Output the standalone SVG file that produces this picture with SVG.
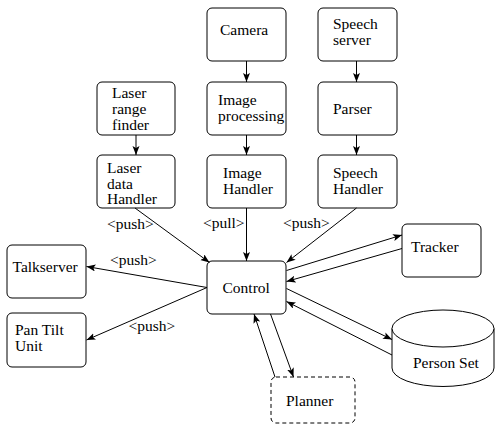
<svg xmlns="http://www.w3.org/2000/svg" width="495" height="425" viewBox="0 0 495 425">
<style>
.box{fill:#fff;stroke:#000;stroke-width:1}
.dash{fill:#fff;stroke:#000;stroke-width:1;stroke-dasharray:4,3}
text{font-family:'Liberation Serif','Times New Roman','DejaVu Serif',serif;font-size:15.5px;fill:#000}
.e{fill:none;stroke:#000;stroke-width:1;marker-end:url(#ah)}
</style>
<defs>
<marker id="ah" markerUnits="userSpaceOnUse" markerWidth="10" markerHeight="8" refX="9" refY="3.5" orient="auto">
<path d="M0,0 L9,3.5 L0,7 L2,3.5 z" fill="#000"/>
</marker>
</defs>
<rect width="495" height="425" fill="#fff"/>
<g font-family="Liberation Serif, serif">
<g id="camera"><rect class="box" x="207" y="8" width="79" height="53" rx="5"/><text x="220" y="35">Camera</text></g>
<g id="speech-server"><rect class="box" x="318" y="8" width="79" height="53" rx="5"/><text x="333" y="29">Speech</text><text x="333" y="45">server</text></g>
<g id="laser-range-finder"><rect class="box" x="97" y="82" width="78" height="53" rx="5"/><text x="112" y="98">Laser</text><text x="112" y="114">range</text><text x="112" y="130">finder</text></g>
<g id="image-processing"><rect class="box" x="207" y="82" width="79" height="53" rx="5"/><text x="218" y="105">Image</text><text x="218" y="121">processing</text></g>
<g id="parser"><rect class="box" x="318" y="82" width="79" height="53" rx="5"/><text x="333" y="114">Parser</text></g>
<g id="laser-data-handler"><rect class="box" x="97" y="155" width="78" height="53" rx="5"/><text x="107" y="173">Laser</text><text x="107" y="188.5">data</text><text x="107" y="204">Handler</text></g>
<g id="image-handler"><rect class="box" x="207" y="155" width="79" height="53" rx="5"/><text x="223" y="178">Image</text><text x="223" y="193.5">Handler</text></g>
<g id="speech-handler"><rect class="box" x="318" y="155" width="79" height="53" rx="5"/><text x="333" y="177.5">Speech</text><text x="333" y="193.5">Handler</text></g>
<g id="talkserver"><rect class="box" x="7" y="245" width="79" height="53" rx="5"/><text x="12.5" y="272">Talkserver</text></g>
<g id="pan-tilt-unit"><rect class="box" x="7" y="313" width="79" height="54" rx="5"/><text x="15" y="335">Pan Tilt</text><text x="15" y="350.5">Unit</text></g>
<g id="control"><rect class="box" x="207" y="261" width="79" height="53" rx="5"/><text x="222.5" y="293">Control</text></g>
<g id="tracker"><rect class="box" x="402" y="224" width="79" height="53" rx="5"/><text x="411" y="252">Tracker</text></g>
<g id="person-set"><path class="box" d="M392,328.5 L392,368 A51,18.5 0 0 0 494,368 L494,328.5"/><ellipse class="box" cx="443" cy="328.5" rx="51" ry="18.5"/><text x="413" y="368">Person Set</text></g>
<g id="planner"><rect class="dash" x="271" y="377" width="84" height="46" rx="5"/><text x="286" y="406">Planner</text></g>
<g id="connectors">
<line class="e" x1="246.5" y1="61" x2="246.5" y2="82"/>
<line class="e" x1="246.5" y1="135" x2="246.5" y2="155"/>
<line class="e" x1="356.5" y1="61" x2="356.5" y2="82"/>
<line class="e" x1="356.5" y1="135" x2="356.5" y2="155"/>
<line class="e" x1="136" y1="135" x2="136" y2="155"/>
<line class="e" x1="135" y1="208" x2="209.5" y2="262.5"/>
<line class="e" x1="246.5" y1="208" x2="246.5" y2="261"/>
<line class="e" x1="356.5" y1="208" x2="286.5" y2="262.5"/>
<line class="e" x1="207" y1="287.5" x2="86.5" y2="266.5"/>
<line class="e" x1="207" y1="287.5" x2="86.5" y2="340"/>
<line class="e" x1="286.5" y1="270.5" x2="402" y2="235"/>
<line class="e" x1="402" y1="248.5" x2="286.5" y2="281.5"/>
<line class="e" x1="286.5" y1="288.5" x2="392" y2="339.5"/>
<line class="e" x1="392" y1="355" x2="286.5" y2="301.5"/>
<line class="e" x1="270.5" y1="314" x2="293.5" y2="377"/>
<line class="e" x1="275" y1="377" x2="254" y2="314"/>
<text x="107" y="229">&lt;push&gt;</text>
<text x="203" y="228">&lt;pull&gt;</text>
<text x="283" y="228">&lt;push&gt;</text>
<text x="110" y="265">&lt;push&gt;</text>
<text x="128.5" y="331">&lt;push&gt;</text>
</g>
</g>
</svg>
